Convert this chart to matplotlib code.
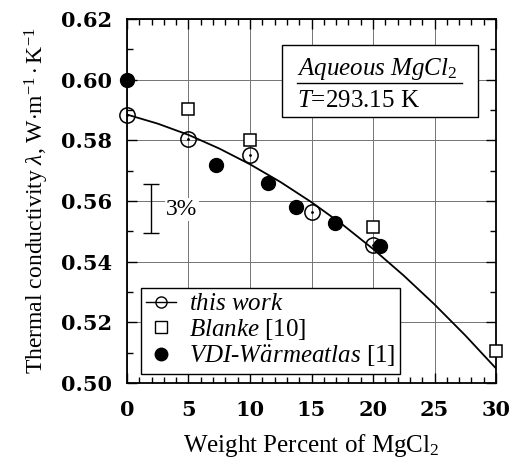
import matplotlib
matplotlib.use("Agg")
import matplotlib.pyplot as plt
from matplotlib.ticker import MultipleLocator
from matplotlib.lines import Line2D
from matplotlib.patches import Rectangle

serif = "DejaVu Serif"
times = "Liberation Serif"
plt.rcParams["mathtext.fontset"] = "custom"
plt.rcParams["mathtext.rm"] = times
plt.rcParams["mathtext.it"] = times + ":italic"
plt.rcParams["mathtext.bf"] = times + ":bold"

# Data
work_x = [0, 5, 10, 15, 20]
work_y = [0.5883, 0.5804, 0.5751, 0.5563, 0.5454]
blanke_x = [5, 10, 20, 30]
blanke_y = [0.5903, 0.5800, 0.5515, 0.5105]
vdi_x = [0, 7.2, 11.5, 13.7, 16.9, 20.6]
vdi_y = [0.5998, 0.5718, 0.5659, 0.5580, 0.5528, 0.5452]
fit_x = [0, 2.5, 5, 7.5, 10, 12.5, 15, 17.5, 20, 22.5, 25, 27.5, 30]
fit_y = [0.5885, 0.5855, 0.5818, 0.5773, 0.5721, 0.5662, 0.5596,
         0.5523, 0.5442, 0.5354, 0.5259, 0.5157, 0.5048]
xticks = [0, 5, 10, 15, 20, 25, 30]
yticks = [0.50, 0.52, 0.54, 0.56, 0.58, 0.60, 0.62]

fig = plt.figure(figsize=(5.09, 4.59), dpi=100)
ax = fig.add_axes([0.2495, 0.1656, 0.725, 0.793])
ax.set_xlim(0, 30)
ax.set_ylim(0.50, 0.62)

ax.set_xticks(xticks)
ax.set_yticks(yticks)
ax.xaxis.set_minor_locator(MultipleLocator(1))
ax.yaxis.set_minor_locator(MultipleLocator(0.01))
ax.grid(True, which="major", color="0.45", linewidth=0.7)
ax.set_axisbelow(True)
ax.tick_params(which="both", direction="in", top=True, right=True, width=1.0)
ax.tick_params(which="major", length=7)
ax.tick_params(which="minor", length=4)
ax.set_xticklabels([str(t) for t in xticks], fontfamily=serif, fontweight="bold", fontsize=15)
ax.set_yticklabels(["%.2f" % t for t in yticks], fontfamily=serif, fontweight="bold", fontsize=15)
ax.tick_params(axis="x", pad=12)
ax.tick_params(axis="y", pad=11)
for s in ax.spines.values():
    s.set_linewidth(1.3)

ax.plot(fit_x, fit_y, color="black", lw=1.3, zorder=3)
ax.plot(work_x, work_y, ls="none", marker="o", ms=11, mfc="none", mec="black", mew=1.1, zorder=4, clip_on=False)
ax.plot(work_x, work_y, ls="none", marker=".", ms=2, color="black", zorder=4, clip_on=False)
ax.plot(blanke_x, blanke_y, ls="none", marker="s", ms=9, mfc="white", mec="black", mew=1.1, zorder=4, clip_on=False)
ax.plot(vdi_x, vdi_y, ls="none", marker="o", ms=10, color="black", zorder=5, clip_on=False)

# 3% bar
ax.errorbar([1.95], [0.55745], yerr=[0.00805], color="black", lw=1.0, capsize=6, capthick=1.0, zorder=3)
ax.text(3.2, 0.5572, "3%", fontfamily=times, fontsize=17, va="center", ha="left",
        bbox=dict(facecolor="white", edgecolor="none", pad=1))

# Info box
ax.add_patch(Rectangle((0.42, 0.731), 0.531, 0.1976, transform=ax.transAxes, facecolor="white",
                       edgecolor="black", lw=1.0, zorder=5))
ax.text(0.461, 0.846, r"$\it{Aqueous\ MgCl}_{\it 2}$", transform=ax.transAxes,
        fontsize=18, ha="left", va="baseline", zorder=6)
ax.text(0.461, 0.758, r"$\it{T}$=293.15 K", transform=ax.transAxes, fontfamily=times,
        fontsize=18, ha="left", va="baseline", zorder=6)
ax.plot([0.461, 0.908], [0.824, 0.824], transform=ax.transAxes, color="black", lw=1.0, zorder=6)

# Legend
handles = [
    Line2D([], [], color="black", lw=1.0, marker="o", ms=8, mfc="none", mec="black"),
    Line2D([], [], ls="none", marker="s", ms=8, mfc="white", mec="black"),
    Line2D([], [], ls="none", marker="o", ms=9, color="black"),
]
labels = [r"$\it{this\ work}$", r"$\it{Blanke}$ [10]", r"$\it{VDI}$-$\it{W\"armeatlas}$ [1]"]
leg = ax.legend(handles, labels, loc="lower left", bbox_to_anchor=(0.038, 0.025), frameon=True,
                fancybox=False, edgecolor="black", framealpha=1, handlelength=1.2, handletextpad=0.5,
                borderpad=0.2, borderaxespad=0, labelspacing=0.05, prop={"family": times, "size": 18})
leg.get_frame().set_linewidth(1.0)
leg.set_zorder(7)

ax.set_xlabel(r"Weight Percent of MgCl$_2$", fontfamily=times, fontsize=18, labelpad=9)
ax.set_ylabel(r"Thermal conductivity $\it{\lambda}$, W$\cdot$m$^{-1}\cdot$K$^{-1}$", fontfamily=times,
              fontsize=17, labelpad=7)

fig.savefig("out.png", dpi=100)
